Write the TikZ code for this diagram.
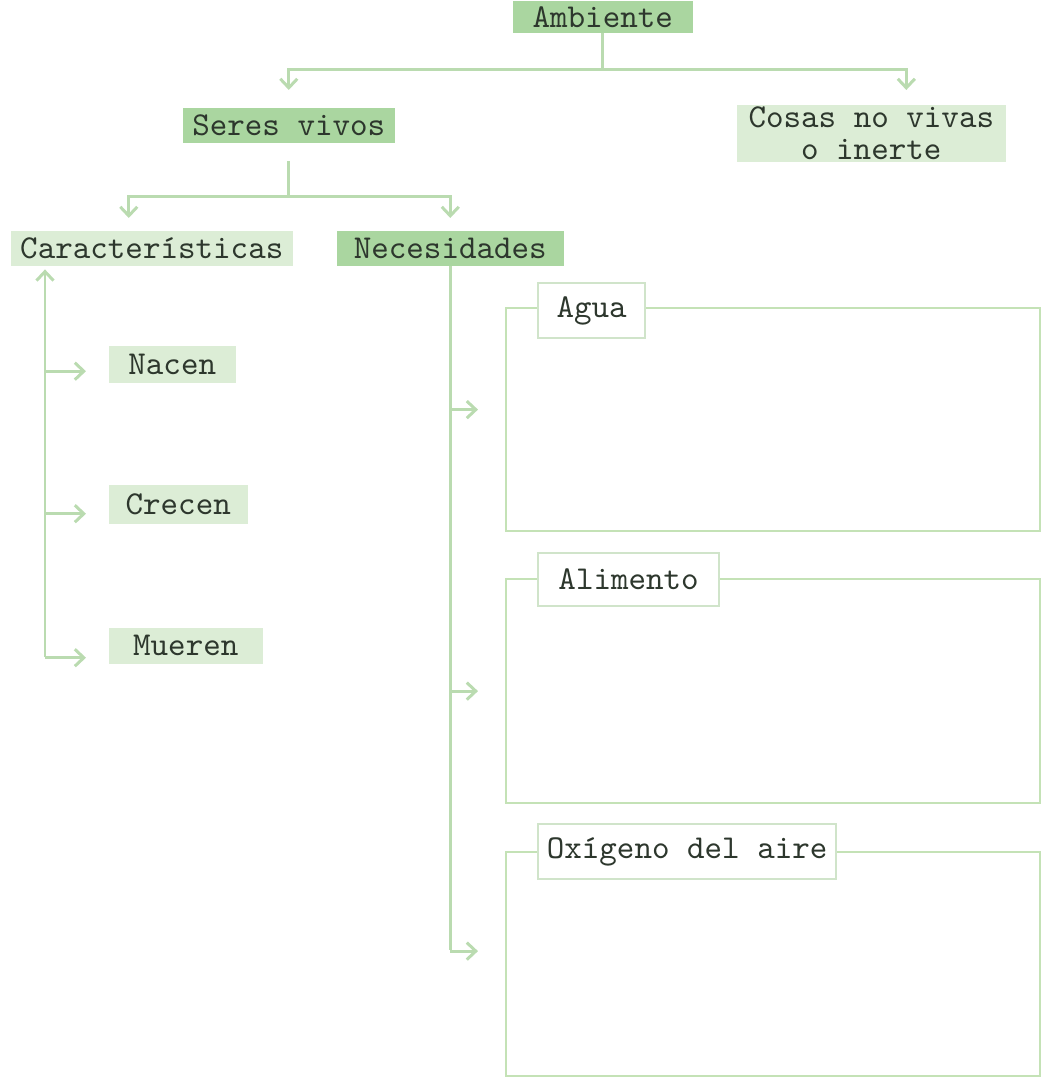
\documentclass[tikz,border=0pt]{standalone}
\usepackage{xcolor}
\usepackage{tikz}
\usetikzlibrary{arrows.meta,positioning}
\definecolor{verdeMedio}{RGB}{170,214,160}
\definecolor{verdeClaro}{RGB}{220,237,214}
\definecolor{verdeLinea}{RGB}{186,219,176}
\definecolor{verdeMarco}{RGB}{196,226,182}
\definecolor{verdeBorde}{RGB}{208,228,202}
\definecolor{textoVerde}{RGB}{45,55,45}

\begin{document}
\begin{tikzpicture}[x=0.01cm,y=-0.01cm,
  font=\ttfamily\fontsize{9.5}{9}\selectfont,text=textoVerde,
  caja/.style={rectangle,inner sep=0pt,anchor=north west,text centered},
  fuerte/.style={caja,fill=verdeMedio},
  clara/.style={caja,fill=verdeClaro},
  marco/.style={rectangle,draw=verdeMarco,line width=0.6pt,anchor=north west,inner sep=0pt},
  etiqueta/.style={caja,fill=white,draw=verdeBorde,line width=0.6pt},
  linea/.style={draw=verdeLinea,line width=0.85pt},
  flecha/.style={linea,-{Straight Barb[length=0.9mm,width=1.7mm]}}]
  \useasboundingbox (0,0) rectangle (1040,1080);

  \node[fuerte,minimum width=1.80cm,minimum height=0.32cm] (amb) at (512,0) {Ambiente};
  \node[fuerte,minimum width=2.12cm,minimum height=0.35cm] (seres) at (182,107) {Seres vivos};
  \node[clara,minimum width=2.69cm,minimum height=0.57cm,align=center] (cosas) at (736,104)
    {Cosas no vivas\\o inerte};
  \node[clara,minimum width=2.82cm,minimum height=0.35cm] (carac) at (10,230) {Características};
  \node[fuerte,minimum width=2.27cm,minimum height=0.35cm] (nec) at (336,230) {Necesidades};
  \node[clara,minimum width=1.27cm,minimum height=0.37cm] (nacen) at (108,345) {Nacen};
  \node[clara,minimum width=1.39cm,minimum height=0.39cm] (crecen) at (108,484) {Crecen};
  \node[clara,minimum width=1.54cm,minimum height=0.36cm] (mueren) at (108,627) {Mueren};

  \node[marco,minimum width=5.34cm,minimum height=2.23cm] (mAgua) at (505,307) {};
  \node[marco,minimum width=5.34cm,minimum height=2.24cm] (mAlim) at (505,578) {};
  \node[marco,minimum width=5.34cm,minimum height=2.24cm] (mOxi) at (505,851) {};
  \node[etiqueta,minimum width=1.07cm,minimum height=0.55cm] (agua) at (537,282) {Agua};
  \node[etiqueta,minimum width=1.81cm,minimum height=0.53cm] (alim) at (537,552) {Alimento};
  \node[etiqueta,minimum width=2.98cm,minimum height=0.55cm] (oxi) at (537,823) {Oxígeno del aire};

  \coordinate (bifAmb) at (596,70);
  \coordinate (bifSer) at (290,197);
  \coordinate (ejeCar) at (45,657);
  \coordinate (ejeNec) at (448,950);

  \draw[linea] (amb.south) -- (amb.south |- bifAmb);
  \draw[flecha,shorten >=0.17cm] (amb.south |- bifAmb) -| (seres.north);
  \draw[flecha,shorten >=0.14cm] (amb.south |- bifAmb) -| ([xshift=0.35cm]cosas.north);

  \draw[linea] ([yshift=-0.18cm]seres.south) -- (seres.south |- bifSer);
  \draw[flecha,shorten >=0.12cm] (seres.south |- bifSer) -| ([xshift=-0.23cm]carac.north);
  \draw[flecha,shorten >=0.12cm] (seres.south |- bifSer) -| (nec.north);

  \draw[linea,{Straight Barb[length=0.9mm,width=1.7mm]}-] ([yshift=-0.03cm]carac.south -| ejeCar) -- (ejeCar);
  \foreach \n/\dy in {nacen/-0.07,crecen/-0.095,mueren/-0.12}
    \draw[flecha,shorten >=0.22cm] ([yshift=\dy cm]\n.west -| ejeCar) -- ([yshift=\dy cm]\n.west);

  \draw[linea] (nec.south) -- (nec.south |- ejeNec);
  \foreach \m/\dy in {mAgua/0.10,mAlim/0,mOxi/0.13}
    \draw[flecha,shorten >=0.27cm] ([yshift=\dy cm]\m.west -| nec.south) -- ([yshift=\dy cm]\m.west);
\end{tikzpicture}
\end{document}
